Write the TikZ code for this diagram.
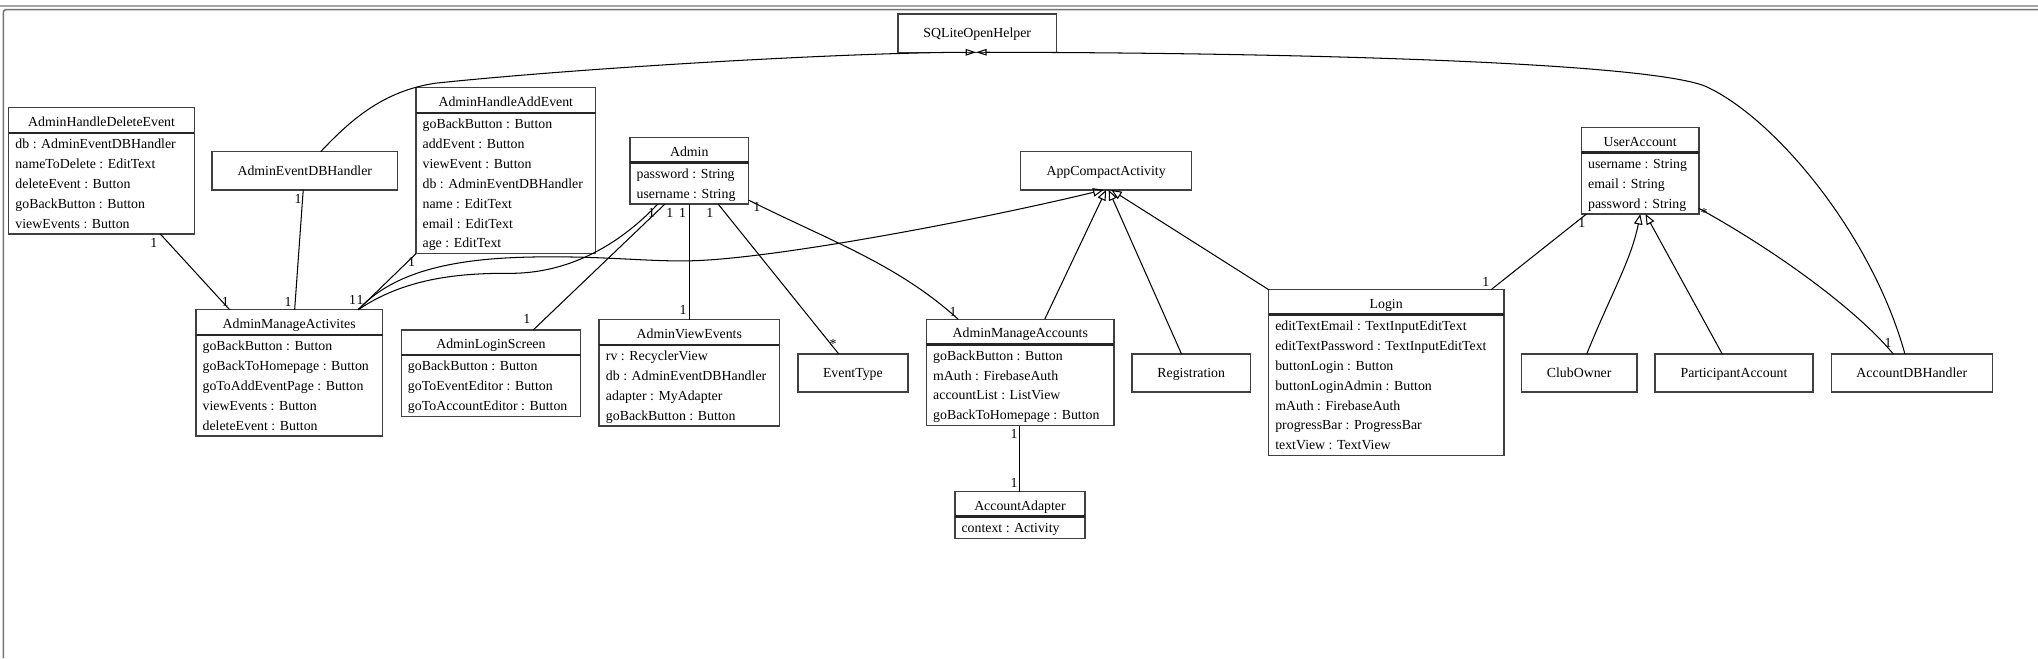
\documentclass[tikz,border=0pt]{standalone}
\usepackage{fontspec}
\setmainfont{Liberation Serif}
\usetikzlibrary{arrows.meta}
\newcommand{\umlfs}{\fontsize{10.65pt}{15.3pt}\selectfont}
\tikzset{
  clsbox/.style={draw=black!75, line width=1.1pt, inner sep=0pt, outer sep=0pt, anchor=north west, font=\umlfs},
  simplebox/.style={clsbox, minimum height=29.4pt, text height=7.2pt, text depth=0pt},
  sepline/.style={draw=black!85, line width=2pt},
  txt/.style={font=\umlfs, inner sep=0pt},
  mult/.style={font=\umlfs, inner sep=0pt},
  assoc/.style={draw=black, line width=0.8pt},
  gen/.style={assoc, -{Triangle[open, length=8pt, width=6.5pt]}},
  genS/.style={assoc, -{Triangle[open, length=8pt, width=5pt]}},
}
\newcommand{\classbox}[7]{%
  \pgfmathsetmacro{\clsH}{35.9+15.3*(#5-1)}%
  \node[clsbox, minimum width=#4pt, minimum height=\clsH pt] (#1) at (#2,#3) {};
  \draw[sepline] ([yshift=-19.3pt]#1.north west) -- ([yshift=-19.3pt]#1.north east);
  \node[txt, anchor=base] (#1-title) at ({#2+#4/2},{#3+14.2}) {#6};
  \foreach \t [count=\i] in {#7} {
    \node[txt, anchor=base west] (#1-a\i) at ({#2+5},{#3+31.5+15.3*(\i-1)}) {\t};
  }
}
\begin{document}
\begin{tikzpicture}[x=1pt,y=-1pt]
\useasboundingbox (0,0) rectangle (1568,506.3);
% window frame
\draw[black!35, line width=1pt] (0,4.6) -- (1568,4.6);
\draw[black!55, line width=1.2pt, rounded corners=2pt] (1568,7.4) -- (2.6,7.4) -- (2.6,506.3);

% classes with attributes
\classbox{ahde}{6.7}{82.9}{142.8}{5}{AdminHandleDeleteEvent}{db : AdminEventDBHandler, nameToDelete : EditText, deleteEvent : Button, goBackButton : Button, viewEvents : Button}
\classbox{ahae}{320}{67.5}{138.3}{7}{AdminHandleAddEvent}{goBackButton : Button, addEvent : Button, viewEvent : Button, db : AdminEventDBHandler, name : EditText, email : EditText, age : EditText}
\classbox{admin}{484.6}{105.9}{91.4}{2}{Admin}{password : String, username : String}
\classbox{ama}{150.7}{238.3}{143.6}{5}{AdminManageActivites}{goBackButton : Button, goBackToHomepage : Button, goToAddEventPage : Button, viewEvents : Button, deleteEvent : Button}
\classbox{als}{308.7}{253.8}{138}{3}{AdminLoginScreen}{goBackButton : Button, goToEventEditor : Button, goToAccountEditor : Button}
\classbox{ave}{461}{246}{138.7}{4}{AdminViewEvents}{rv : RecyclerView, db : AdminEventDBHandler, adapter : MyAdapter, goBackButton : Button}
\classbox{amacc}{712.8}{245.6}{144.4}{4}{AdminManageAccounts}{goBackButton : Button, mAuth : FirebaseAuth, accountList : ListView, goBackToHomepage : Button}
\classbox{aa}{734.6}{378.2}{100.3}{1}{AccountAdapter}{context : Activity}
\classbox{login}{976}{222.8}{181}{7}{Login}{editTextEmail : TextInputEditText, editTextPassword : TextInputEditText, buttonLogin : Button, buttonLoginAdmin : Button, mAuth : FirebaseAuth, progressBar : ProgressBar, textView : TextView}
\classbox{ua}{1216.7}{98.2}{90.3}{3}{UserAccount}{username : String, email : String, password : String}

% simple classes
\node[simplebox, minimum width=121.7pt] (sql) at (691,10.8) {SQLiteOpenHelper};
\node[simplebox, minimum width=143pt] (aedb) at (163,116.7) {AdminEventDBHandler};
\node[simplebox, minimum width=131.4pt] (aca) at (785.3,116.7) {AppCompactActivity};
\node[simplebox, minimum width=84.8pt] (et) at (613.8,272.3) {EventType};
\node[simplebox, minimum width=91pt] (reg) at (871,272.3) {Registration};
\node[simplebox, minimum width=89pt] (co) at (1170.5,272.3) {ClubOwner};
\node[simplebox, minimum width=121.4pt] (pa) at (1273.4,272.3) {ParticipantAccount};
\node[simplebox, minimum width=123.8pt] (adbh) at (1409,272.3) {AccountDBHandler};

% generalizations to SQLiteOpenHelper
\draw[genS] (aedb.north -| 246.7,0) .. controls (270,92) and (295,70) .. (335,64)
  .. controls (450,52) and (650,40.5) .. (sql.south -| 751,0);
\draw[genS] (adbh.north -| 1465.6,0) .. controls (1440,180) and (1365,90) .. (1311.7,66.2)
  .. controls (1265,48) and (1000,40.5) .. (sql.south -| 751,0);

% generalizations to AppCompactActivity
\draw[gen] (ama.north -| 275.6,0) .. controls (300,212) and (340,200) .. (400,198)
  .. controls (460,196) and (500,202) .. (536,200.5)
  .. controls (600,198) and (750,170) .. (aca.south -| 849,0);
\draw[gen] (amacc.north -| 803.8,0) -- (aca.south -| 851,0);
\draw[gen] (reg.north -| 909,0) -- (aca.south -| 853,0);
\draw[gen] (login.north west) -- (aca.south -| 855,0);

% generalizations to UserAccount
\draw[gen] (co.north -| 1220.8,0) .. controls (1240,225) and (1255,200) .. (ua.south -| 1262,0);
\draw[gen] (pa.north -| 1325,0) -- (ua.south -| 1266,0);

% associations
\draw[assoc] (ahde.south -| 123.3,0) -- (ama.north -| 176.7,0);
\draw[assoc] (aedb.south -| 233.3,0) -- (ama.north -| 226.7,0);
\draw[assoc] (ahae.south west) -- (ama.north -| 275.6,0);
\draw[assoc] (admin.south -| 506,0) .. controls (470,195) and (430,210.5) .. (392,210.3)
  .. controls (350,210) and (310,215) .. (ama.north -| 275.6,0);
\draw[assoc] (admin.south -| 511.5,0) -- (als.north -| 410.3,0);
\draw[assoc] (admin.south -| 530.3,0) -- (ave.north -| 530.3,0);
\draw[assoc] (admin.south -| 552.6,0) -- (et.north -| 645.3,0);
\draw[assoc] (admin.east |- 0,154) .. controls (640,186) and (690,203) .. (amacc.north -| 737.2,0);
\draw[assoc] (amacc.south -| 784.6,0) -- (aa.north -| 784.6,0);
\draw[assoc] (login.north -| 1147.3,0) -- (ua.south -| 1220.5,0);
\draw[assoc] (adbh.north -| 1456.6,0) .. controls (1430,240) and (1370,195) .. (ua.east |- 0,160.3);

% multiplicities
\node[mult] (m1) at (118.3,186.7) {1};
\node[mult] (m2) at (173.3,232) {1};
\node[mult] (m3) at (229.3,153.3) {1};
\node[mult] (m4) at (221.7,232) {1};
\node[mult] (m5) at (316.7,201.3) {1};
\node[mult] (m6) at (271.3,230.8) {1};
\node[mult] (m7) at (277,230.8) {1};
\node[mult] (m8) at (501.3,164.1) {1};
\node[mult] (m9) at (515.4,164.1) {1};
\node[mult] (m10) at (525.1,164.1) {1};
\node[mult] (m11) at (546.2,164.1) {1};
\node[mult] (m12) at (405.4,245.7) {1};
\node[mult] (m13) at (525.6,238.5) {1};
\node[mult] (m14) at (640.9,265) {*};
\node[mult] (m15) at (582.2,159.5) {1};
\node[mult] (m16) at (733.3,239.8) {1};
\node[mult] (m17) at (780.3,334.1) {1};
\node[mult] (m18) at (780.3,371.3) {1};
\node[mult] (m19) at (1143.2,216.7) {1};
\node[mult] (m20) at (1217.1,171.8) {1};
\node[mult] (m21) at (1311,164) {*};
\node[mult] (m22) at (1452.7,264) {1};
\end{tikzpicture}
\end{document}
